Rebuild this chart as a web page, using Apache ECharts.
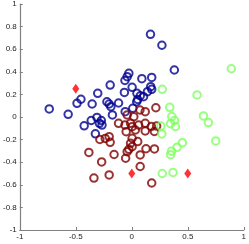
<!DOCTYPE html>
<html><head><meta charset="utf-8">
<script src="https://cdn.jsdelivr.net/npm/echarts@6/dist/echarts.min.js"></script>
<style>html,body{margin:0;padding:0;background:#fff}#c{width:249px;height:244px}</style>
</head><body><div id="c"></div>
<script>
const xTicks = [-1, -0.5, 0, 0.5, 1];
const yTicks = [-1, -0.8, -0.6, -0.4, -0.2, 0, 0.2, 0.4, 0.6, 0.8, 1];
const blueX = [-0.737,-0.568,-0.489,-0.454,-0.354,-0.304,-0.193,-0.222,-0.202,-0.187,-0.118,-0.173,-0.311,-0.362,-0.272,-0.289,-0.266,-0.425,-0.325,-0.026,-0.041,-0.061,0.090,0.178,0.167,0.269,0.380,0.003,-0.066,0.169,0.178,0.140,0.046,0.076,0.105,0.053,0.044,0.009,-0.059];
const blueY = [0.071,0.024,0.121,0.157,0.115,0.210,0.283,0.135,0.115,0.091,0.124,0.018,-0.004,-0.031,-0.031,-0.056,-0.071,-0.078,-0.149,0.387,0.357,0.323,0.339,0.350,0.732,0.635,0.416,0.263,0.217,0.268,0.245,0.224,0.210,0.188,0.180,0.155,0.135,0.077,0.047];
const redX = [-0.118,-0.041,0.018,-0.061,-0.011,0.003,0.061,0.120,-0.050,0.032,0.120,0.175,0.202,0.222,0.120,0.215,0.073,0.003,0.053,-0.011,0.003,-0.026,-0.041,-0.055,0.127,0.202,0.075,0.075,0.178,-0.285,-0.237,-0.202,-0.193,-0.383,-0.269,-0.158,-0.338,-0.202];
const redY = [-0.056,0.018,0.003,-0.071,-0.056,-0.086,-0.071,-0.056,-0.130,-0.115,-0.124,-0.084,-0.128,-0.080,0.047,0.082,0.062,-0.188,-0.217,-0.233,-0.263,-0.286,-0.307,-0.365,-0.281,-0.283,-0.336,-0.438,-0.584,-0.199,-0.190,-0.174,-0.224,-0.314,-0.398,-0.332,-0.540,-0.513];
const greenX = [0.272,0.583,0.889,0.339,0.357,0.382,0.346,0.390,0.259,0.268,0.640,0.684,0.750,0.452,0.404,0.354,0.346,0.272,0.368];
const greenY = [0.245,0.195,0.427,0.086,0.004,-0.031,-0.059,-0.084,-0.080,-0.150,0.009,-0.049,-0.212,-0.227,-0.268,-0.303,-0.334,-0.500,-0.491];
const centerX = [-0.5, 0, 0.5];
const centerY = [0.25, -0.5, -0.5];

const zip = (a, b) => a.map((v, i) => [v, b[i]]);
const ring = (color, xs, ys) => ({
  type: 'scatter', data: zip(xs, ys), symbol: 'circle', symbolSize: 7.5,
  itemStyle: { color: 'rgba(0,0,0,0)', borderColor: color, borderWidth: 2 },
  emphasis: { disabled: true }, silent: true
});
const axisCommon = {
  axisLine: { onZero: false, lineStyle: { color: '#808080', width: 1.2 } },
  axisTick: { inside: true, length: 3, lineStyle: { color: '#808080' } },
  splitLine: { show: false },
  axisLabel: { color: '#222', fontSize: 8, fontFamily: 'Liberation Sans', margin: 3 }
};
const chart = echarts.init(document.getElementById('c'), null, { renderer: 'canvas' });
chart.setOption({
  animation: false,
  grid: { left: 19, right: 2, top: 4, bottom: 14 },
  xAxis: Object.assign({ type: 'value', min: xTicks[0], max: xTicks[xTicks.length - 1], interval: 0.5 }, axisCommon),
  yAxis: Object.assign({ type: 'value', min: yTicks[0], max: yTicks[yTicks.length - 1], interval: 0.2 }, axisCommon),
  series: [
    ring('#000090', blueX, blueY),
    ring('#800000', redX, redY),
    ring('#80ff60', greenX, greenY),
    { type: 'scatter', data: zip(centerX, centerY), symbol: 'diamond', symbolSize: [7, 10],
      itemStyle: { color: '#ff0000' }, silent: true }
  ]
});
</script></body></html>
